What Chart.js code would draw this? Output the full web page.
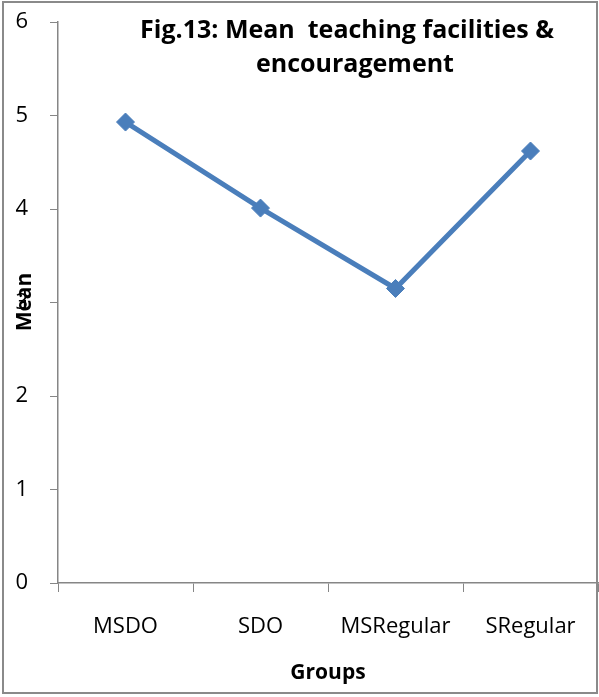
<!DOCTYPE html>
<html lang="en">
<head>
  <meta charset="UTF-8" />
  <title>Fig.13 Mean teaching facilities</title>
  <style>
    body {
      margin: 0;
      padding: 0;
      background: #fff;
    }

    .wrap {
      width: 599px;
      height: 697px;
    }
  </style>
</head>
<body>
  <div class="wrap">
    <canvas id="meanChart" width="599" height="697"></canvas>
  </div>

  <script src="https://cdn.jsdelivr.net/npm/chart.js"></script>
  <script>
    const groups = ['MSDO', 'SDO', 'MSRegular', 'SRegular'];
    const means = [4.93, 4.01, 3.15, 4.62];
    const titleLines = ['Fig.13: Mean  teaching facilities &', 'encouragement'];
    const yTitle = 'Mean';
    const xTitle = 'Groups';

    const axisGray = '#868686';
    const font = "'Open Sans', sans-serif";

    // frame, chart title and the y title sit on top of the plot like in the original
    const overlay = {
      id: 'overlay',
      beforeDraw(chart) {
        const c = chart.ctx;
        c.save();
        c.fillStyle = '#fff';
        c.fillRect(0, 0, chart.width, chart.height);
        c.restore();
      },
      afterDraw(chart) {
        const c = chart.ctx;
        c.save();
        c.strokeStyle = '#8a8a8a';
        c.lineWidth = 2;
        c.strokeRect(3, 2, 594, 691);

        c.fillStyle = '#000';
        c.font = "bold 25px " + font;
        c.textAlign = 'center';
        c.textBaseline = 'middle';
        c.fillText(titleLines[0], 347, 31);
        c.fillText(titleLines[1], 355, 65);

        c.translate(25, 302);
        c.rotate(-Math.PI / 2);
        c.font = "bold 21px " + font;
        c.fillText(yTitle, 0, 0);
        c.restore();
      }
    };

    const ctx = document.getElementById('meanChart').getContext('2d');

    new Chart(ctx, {
      type: 'line',
      data: {
        labels: groups,
        datasets: [{
          label: 'Mean',
          data: means,
          borderColor: '#4a7ebb',
          backgroundColor: '#4a7ebb',
          borderWidth: 5,
          pointStyle: 'rectRot',
          pointRadius: 9,
          pointBorderWidth: 1,
          pointBorderColor: '#4a7ebb',
          pointBackgroundColor: '#4a7ebb',
          tension: 0
        }]
      },
      options: {
        responsive: false,
        animation: false,
        layout: {
          autoPadding: false,
          padding: { top: 22, right: 1, left: 0, bottom: 0 }
        },
        plugins: {
          legend: { display: false },
          tooltip: { enabled: false }
        },
        scales: {
          x: {
            offset: true,
            grid: {
              offset: true,
              drawOnChartArea: false,
              drawTicks: true,
              tickLength: 9,
              color: axisGray
            },
            border: { color: axisGray, width: 1.5 },
            ticks: {
              color: '#000',
              padding: 22,
              font: { family: font, size: 22 }
            },
            title: {
              display: true,
              text: xTitle,
              color: '#000',
              padding: { top: 0, bottom: 11 },
              font: { family: font, size: 21, weight: 'bold' }
            },
            afterFit(scale) {
              scale.height = 114;
            }
          },
          y: {
            min: 0,
            max: 6,
            ticks: {
              stepSize: 1,
              color: '#000',
              padding: 22,
              font: { family: font, size: 22 }
            },
            grid: {
              drawOnChartArea: false,
              drawTicks: true,
              tickLength: 8,
              color: axisGray
            },
            border: { color: axisGray, width: 1.5 },
            afterFit(scale) {
              scale.width = 58;
              // tick padding is only for the horizontal gap, don't push the plot down
              scale.paddingTop = 0;
              scale.paddingBottom = 0;
            }
          }
        }
      },
      plugins: [overlay]
    });
  </script>
</body>
</html>
